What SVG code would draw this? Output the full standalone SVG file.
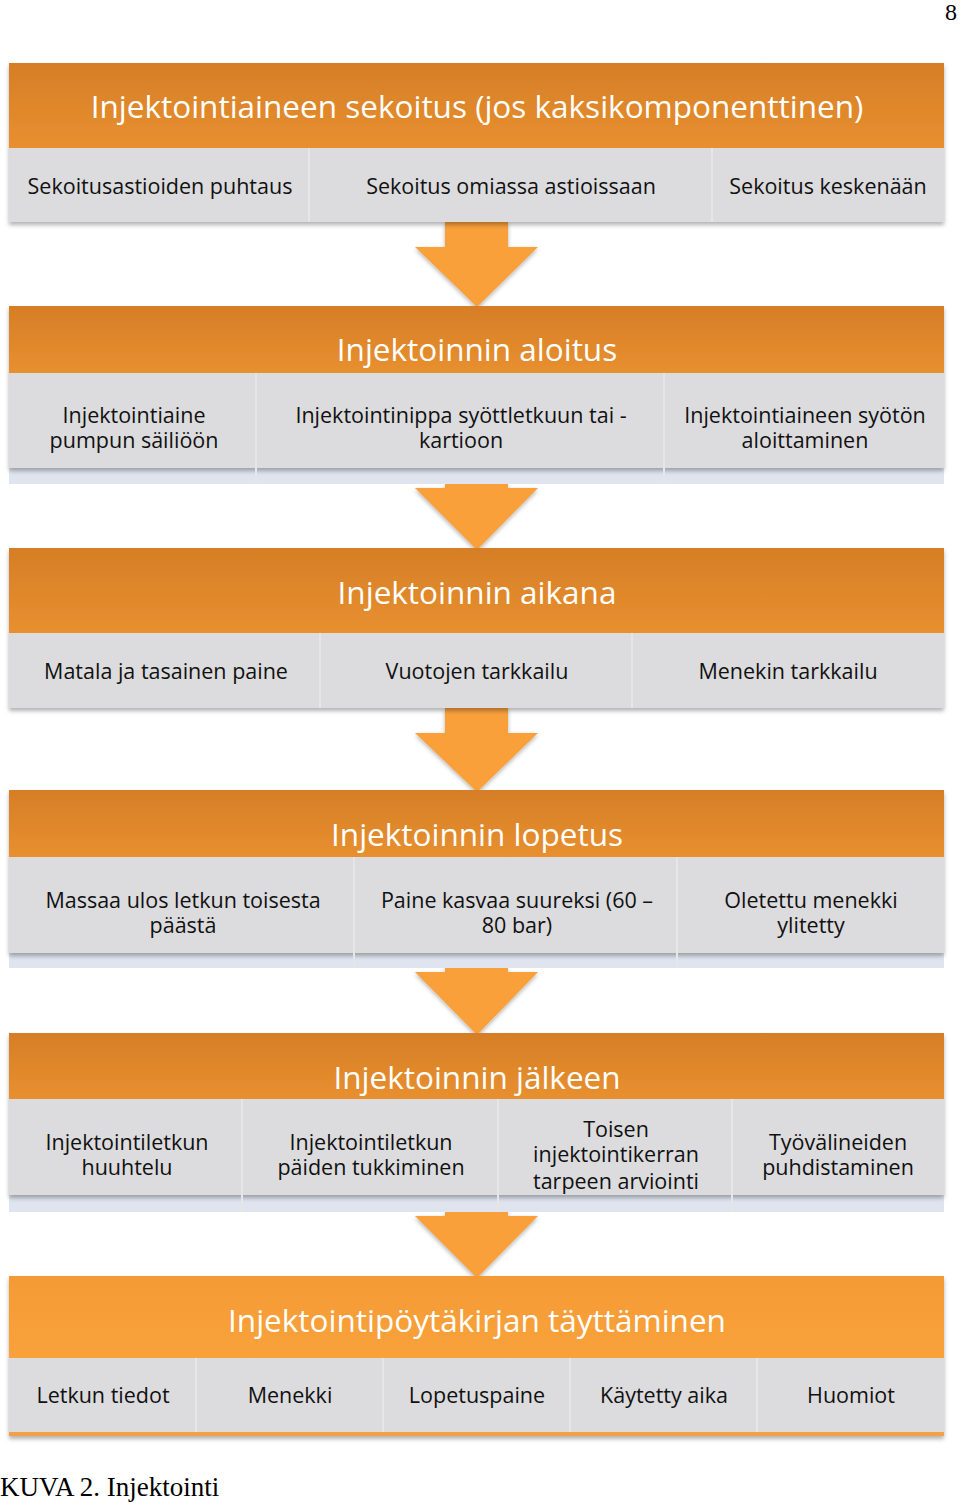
<svg xmlns="http://www.w3.org/2000/svg" width="960" height="1505" viewBox="0 0 960 1505">
<defs>
<linearGradient id="hg" x1="0" y1="0" x2="0" y2="1"><stop offset="0" stop-color="#d57e27"/><stop offset="1" stop-color="#e8902f"/></linearGradient>
<linearGradient id="hg6" x1="0" y1="0" x2="0" y2="1"><stop offset="0" stop-color="#f49a35"/><stop offset="1" stop-color="#f9a23b"/></linearGradient>
<filter id="sh" x="-5%" y="-20%" width="110%" height="150%"><feDropShadow dx="0" dy="3" stdDeviation="2" flood-color="#000" flood-opacity="0.3"/></filter>
<filter id="ash" x="-20%" y="-20%" width="140%" height="140%"><feDropShadow dx="0" dy="2" stdDeviation="2" flood-color="#000" flood-opacity="0.3"/></filter>
</defs>
<style>
.hd{font-family:"Open Sans","Liberation Sans",sans-serif;font-size:31.5px;fill:#fff;text-anchor:middle}
.ct{font-family:"Open Sans","Liberation Sans",sans-serif;font-size:21.5px;fill:#111;text-anchor:middle}
.cell{fill:#dcdcde}
.strip{fill:#dfe4ee}
.arr{fill:#f9a03a}
.tm{font-family:"Liberation Serif",serif;fill:#000}
</style>
<text class="tm" x="957" y="20" font-size="24" text-anchor="end">8</text>
<g id="connectors">
<path class="arr" filter="url(#ash)" d="M445 222 H508 V247 H538 L477 307 L415 247 H445 Z"/>
<path class="arr" filter="url(#ash)" d="M445 484 H508 V488 H538 L477 550 L415 488 H445 Z"/>
<path class="arr" filter="url(#ash)" d="M445 708 H508 V733 H538 L477 792 L415 733 H445 Z"/>
<path class="arr" filter="url(#ash)" d="M445 968 H508 V972 H538 L477 1035 L415 972 H445 Z"/>
<path class="arr" filter="url(#ash)" d="M445 1212 H508 V1216 H538 L477 1278 L415 1216 H445 Z"/>
</g>
<g id="block1">
<g filter="url(#sh)">
<rect x="9" y="63" width="935" height="85" fill="url(#hg)"/>
<rect x="9" y="148" width="935" height="74" class="cell"/>
</g>
<rect x="308" y="148" width="2" height="74" fill="#e6e6e8"/>
<rect x="711" y="148" width="2" height="74" fill="#e6e6e8"/>
<text class="hd" x="477" y="118">Injektointiaineen sekoitus (jos kaksikomponenttinen)</text>
<text class="ct" x="160" y="194">Sekoitusastioiden puhtaus</text>
<text class="ct" x="511" y="194">Sekoitus omiassa astioissaan</text>
<text class="ct" x="828" y="194">Sekoitus keskenään</text>
</g>
<g id="block2">
<rect x="9" y="468" width="935" height="16" class="strip"/>
<g filter="url(#sh)">
<rect x="9" y="306" width="935" height="67" fill="url(#hg)"/>
<rect x="9" y="373" width="935" height="95" class="cell"/>
</g>
<rect x="255" y="373" width="2" height="111" fill="#e6e6e8"/>
<rect x="663" y="373" width="2" height="111" fill="#e6e6e8"/>
<text class="hd" x="477" y="361">Injektoinnin aloitus</text>
<text class="ct" x="134" y="423">Injektointiaine</text>
<text class="ct" x="134" y="448">pumpun säiliöön</text>
<text class="ct" x="461" y="423">Injektointinippa syöttletkuun tai -</text>
<text class="ct" x="461" y="448">kartioon</text>
<text class="ct" x="805" y="423">Injektointiaineen syötön</text>
<text class="ct" x="805" y="448">aloittaminen</text>
</g>
<g id="block3">
<g filter="url(#sh)">
<rect x="9" y="548" width="935" height="85" fill="url(#hg)"/>
<rect x="9" y="633" width="935" height="75" class="cell"/>
</g>
<rect x="319" y="633" width="2" height="75" fill="#e6e6e8"/>
<rect x="631" y="633" width="2" height="75" fill="#e6e6e8"/>
<text class="hd" x="477" y="604">Injektoinnin aikana</text>
<text class="ct" x="166" y="679">Matala ja tasainen paine</text>
<text class="ct" x="477" y="679">Vuotojen tarkkailu</text>
<text class="ct" x="788" y="679">Menekin tarkkailu</text>
</g>
<g id="block4">
<rect x="9" y="953" width="935" height="15" class="strip"/>
<g filter="url(#sh)">
<rect x="9" y="790" width="935" height="67" fill="url(#hg)"/>
<rect x="9" y="857" width="935" height="96" class="cell"/>
</g>
<rect x="353" y="857" width="2" height="111" fill="#e6e6e8"/>
<rect x="676" y="857" width="2" height="111" fill="#e6e6e8"/>
<text class="hd" x="477" y="846">Injektoinnin lopetus</text>
<text class="ct" x="183" y="908">Massaa ulos letkun toisesta</text>
<text class="ct" x="183" y="933">päästä</text>
<text class="ct" x="517" y="908">Paine kasvaa suureksi (60 –</text>
<text class="ct" x="517" y="933">80 bar)</text>
<text class="ct" x="811" y="908">Oletettu menekki</text>
<text class="ct" x="811" y="933">ylitetty</text>
</g>
<g id="block5">
<rect x="9" y="1195" width="935" height="17" class="strip"/>
<g filter="url(#sh)">
<rect x="9" y="1033" width="935" height="66" fill="url(#hg)"/>
<rect x="9" y="1099" width="935" height="96" class="cell"/>
</g>
<rect x="241" y="1099" width="2" height="113" fill="#e6e6e8"/>
<rect x="497" y="1099" width="2" height="113" fill="#e6e6e8"/>
<rect x="731" y="1099" width="2" height="113" fill="#e6e6e8"/>
<text class="hd" x="477" y="1089">Injektoinnin jälkeen</text>
<text class="ct" x="127" y="1150">Injektointiletkun</text>
<text class="ct" x="127" y="1175">huuhtelu</text>
<text class="ct" x="371" y="1150">Injektointiletkun</text>
<text class="ct" x="371" y="1175">päiden tukkiminen</text>
<text class="ct" x="616" y="1137">Toisen</text>
<text class="ct" x="616" y="1162">injektointikerran</text>
<text class="ct" x="616" y="1189">tarpeen arviointi</text>
<text class="ct" x="838" y="1150">Työvälineiden</text>
<text class="ct" x="838" y="1175">puhdistaminen</text>
</g>
<g id="block6">
<g filter="url(#sh)">
<rect x="9" y="1276" width="935" height="82" fill="url(#hg6)"/>
<rect x="9" y="1358" width="935" height="74" class="cell"/>
<rect x="9" y="1432" width="935" height="4" fill="#f3a04a"/>
</g>
<rect x="195" y="1358" width="2" height="74" fill="#e6e6e8"/>
<rect x="382" y="1358" width="2" height="74" fill="#e6e6e8"/>
<rect x="569" y="1358" width="2" height="74" fill="#e6e6e8"/>
<rect x="756" y="1358" width="2" height="74" fill="#e6e6e8"/>
<text class="hd" x="477" y="1332">Injektointipöytäkirjan täyttäminen</text>
<text class="ct" x="103" y="1403">Letkun tiedot</text>
<text class="ct" x="290" y="1403">Menekki</text>
<text class="ct" x="477" y="1403">Lopetuspaine</text>
<text class="ct" x="664" y="1403">Käytetty aika</text>
<text class="ct" x="851" y="1403">Huomiot</text>
</g>
<text class="tm" x="0" y="1496" font-size="27">KUVA 2. Injektointi</text>
</svg>
